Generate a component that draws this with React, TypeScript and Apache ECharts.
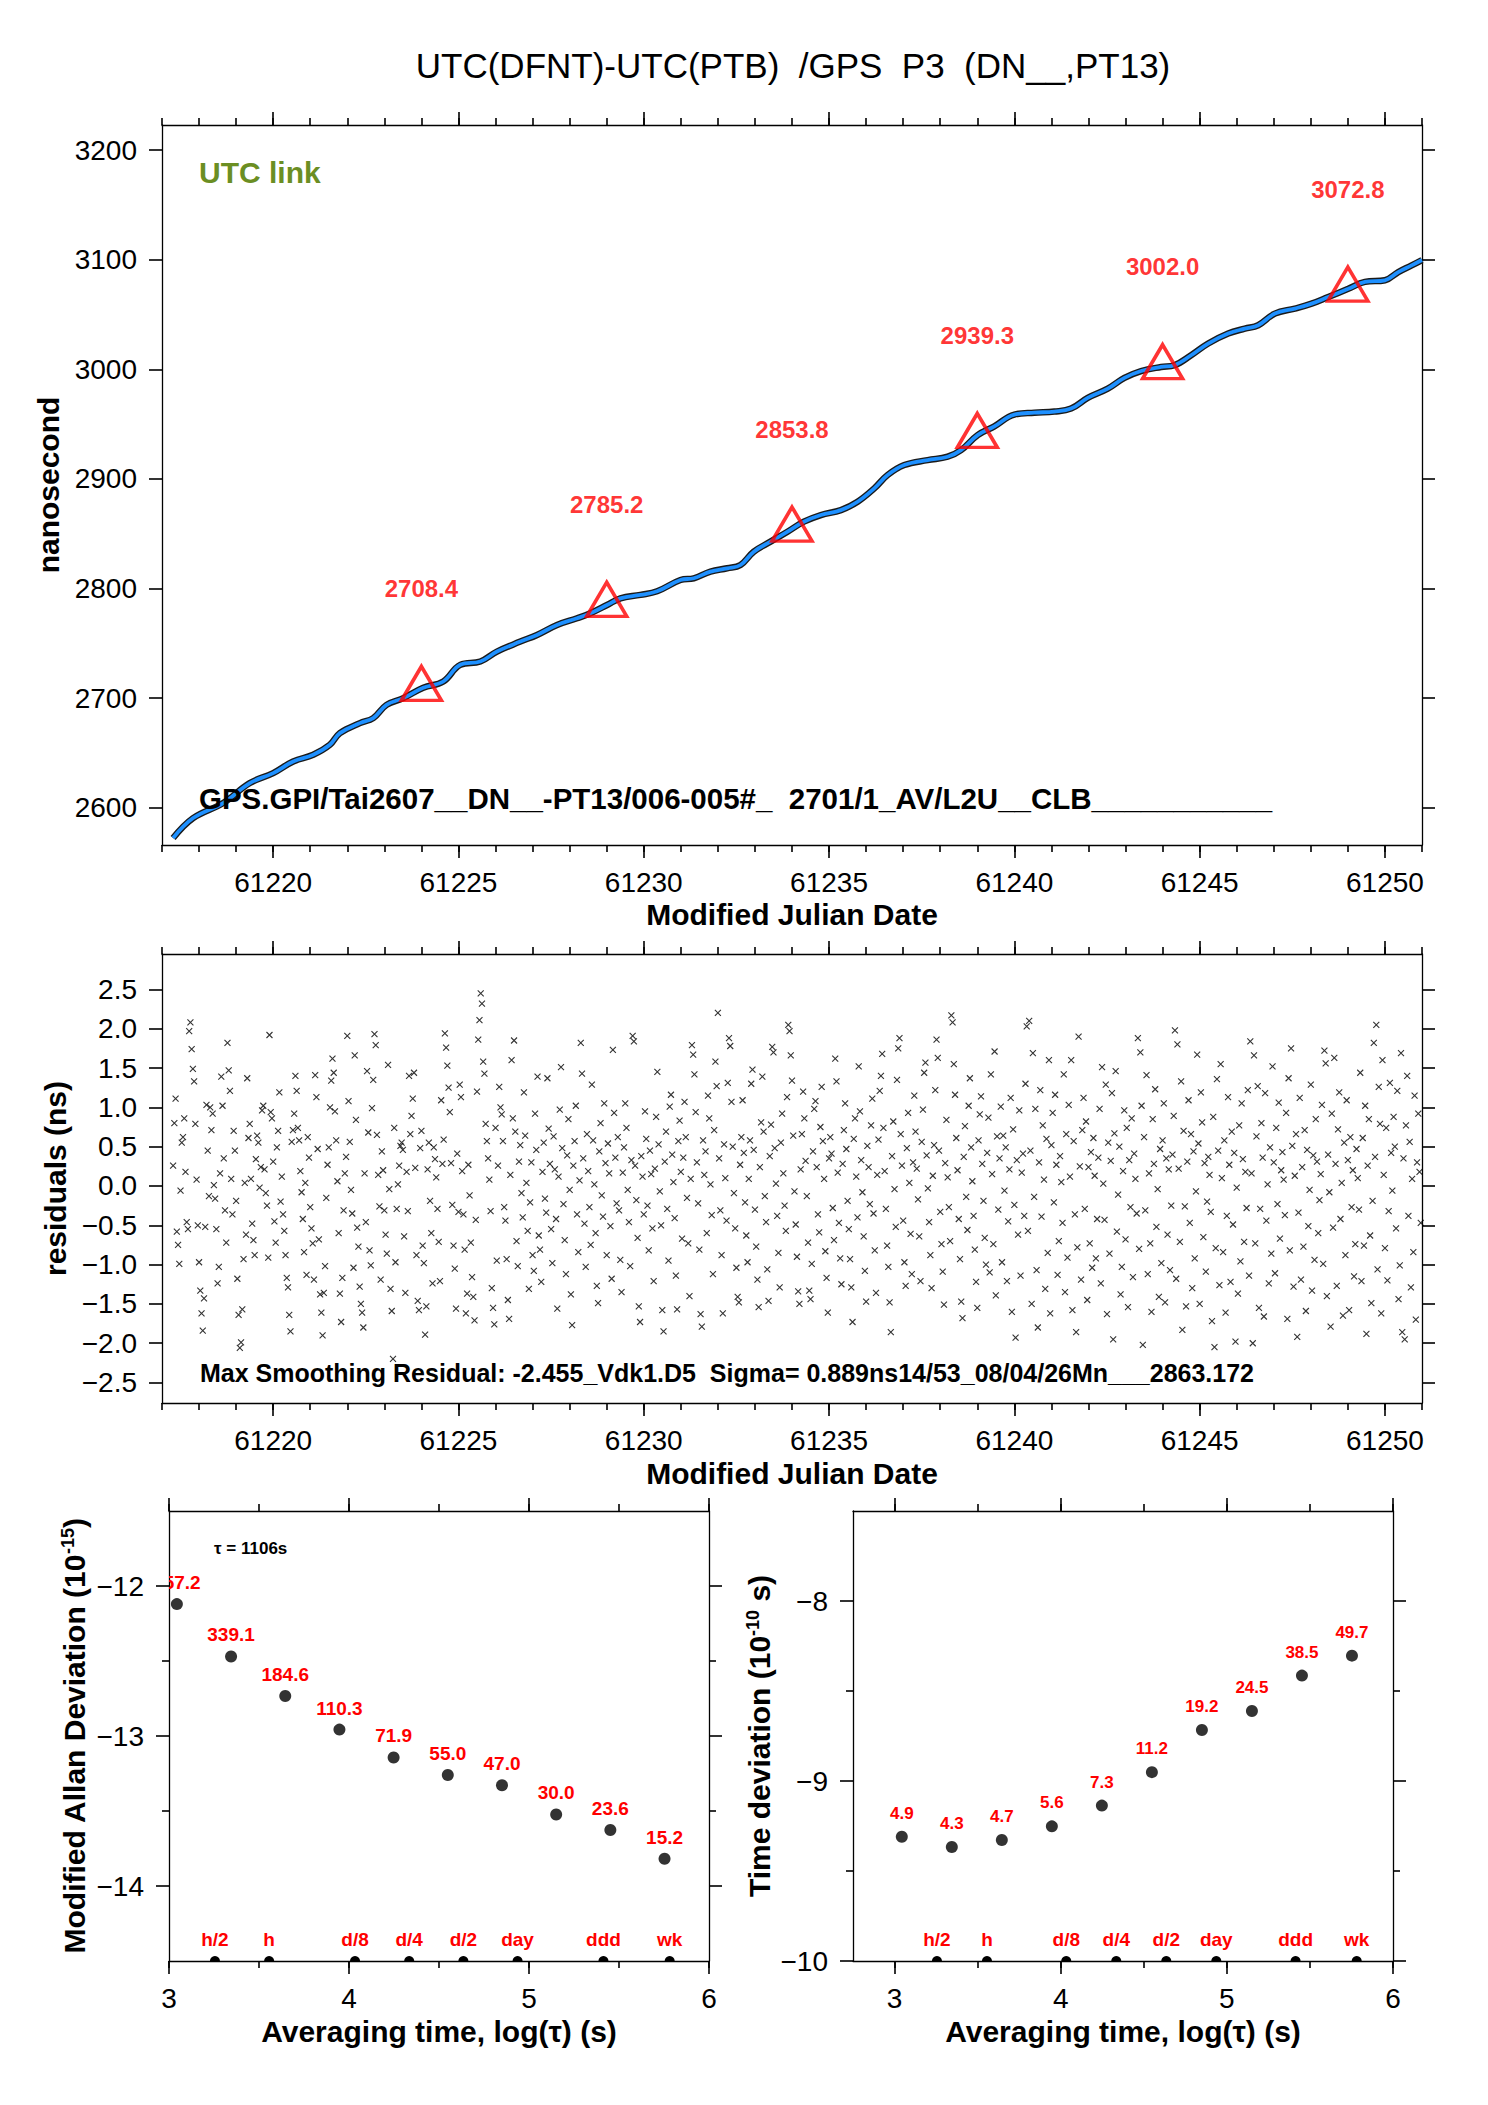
import React, { useEffect, useRef } from "react";
import * as echarts from "echarts";

const FONT = '"Liberation Sans", Arial, Helvetica, sans-serif';

// ---------- top panel: smoothed link data ----------
const SMOOTH_MJD = [
  61217.3, 61217.84, 61218.65, 61219.37, 61220.0, 61220.54, 61221.08, 61221.53, 61221.8, 61222.34,
  61222.7, 61223.06, 61223.51, 61224.05, 61224.59, 61225.05, 61225.59, 61226.04, 61226.67, 61227.12,
  61227.66, 61228.2, 61228.56, 61229.01, 61229.37, 61229.91, 61230.36, 61230.99, 61231.35, 61231.8,
  61232.25, 61232.61, 61232.97, 61233.42, 61233.88, 61234.32, 61234.78, 61235.32, 61235.77, 61236.22,
  61236.58, 61237.03, 61237.66, 61238.2, 61238.56, 61239.01, 61239.46, 61240.0, 61240.54, 61241.08,
  61241.53, 61241.98, 61242.52, 61242.97, 61243.42, 61243.96, 61244.32, 61244.77, 61245.23, 61245.77,
  61246.22, 61246.58, 61247.03, 61247.57, 61248.02, 61248.47, 61249.01, 61249.46, 61250.0, 61250.36,
  61250.72, 61251.0,
];
const SMOOTH_NS = [
  2572.4, 2590.6, 2604.3, 2622.5, 2631.6, 2642.2, 2648.3, 2657.4, 2668.1, 2677.2,
  2681.8, 2693.9, 2700.0, 2709.5, 2715.2, 2730.4, 2733.4, 2742.5, 2751.6, 2757.7,
  2766.8, 2772.9, 2777.5, 2785.0, 2791.1, 2794.2, 2797.5, 2807.8, 2809.4, 2815.5,
  2818.5, 2821.5, 2833.7, 2842.8, 2851.9, 2861.0, 2867.1, 2871.6, 2879.2, 2891.4,
  2903.6, 2912.7, 2917.2, 2920.3, 2926.3, 2940.0, 2948.0, 2958.8, 2960.5, 2961.5,
  2964.2, 2974.0, 2982.4, 2992.2, 2998.5, 3002.2, 3003.8, 3012.9, 3023.6, 3032.7,
  3037.2, 3040.3, 3050.9, 3055.5, 3060.0, 3066.1, 3073.5, 3079.8, 3081.3, 3088.8,
  3094.9, 3099.8,
];
const MARK_MJD = [61224, 61229, 61234, 61239, 61244, 61249];
const MARK_NS = [2708.4, 2785.2, 2853.8, 2939.3, 3002.0, 3072.8];
const MJD_MAJOR = [61220, 61225, 61230, 61235, 61240, 61245, 61250];
const MJD_MINOR = [
  61217, 61218, 61219, 61220, 61221, 61222, 61223, 61224, 61225, 61226, 61227, 61228,
  61229, 61230, 61231, 61232, 61233, 61234, 61235, 61236, 61237, 61238, 61239, 61240,
  61241, 61242, 61243, 61244, 61245, 61246, 61247, 61248, 61249, 61250, 61251,
];
const NS_TICKS = [2600, 2700, 2800, 2900, 3000, 3100, 3200];

// ---------- residuals (ns), sampled every 1/30 day from MJD 61217.3 ----------
const RES_START = 61217.3;
const RES_STEP = 1 / 30;
const RES_1 = [
  0.26, 0.8, 1.11, -0.58, -0.75, -0.99, -0.06, 0.55, 0.62, 0.86, 0.18, -0.46, -0.55, 1.97, 2.08, 1.74, 1.49, 1.33, 0.79, 0.08, -0.5, -0.97, -1.33, -1.62, -1.84, -1.43, -0.52, 1.03, 0.45, -0.13,
  1.0, 0.71, 0.92, 0.01, -0.16, -0.55, -1.24, -1.03, 0.16, 1.39, 1.02, 0.35, -0.31, -0.72, 1.82, 1.47, 1.21, 0.09, -0.36, 0.7, 0.45, -0.19, -1.18, -1.64, -2.06, -1.99, -1.57, -0.93, 0.04, -0.62,
  1.37, 0.61, 0.79, 0.09, -0.48, -0.69, -0.88, 0.34, 0.64, 0.55, -0.02, 0.24, 0.96, 1.02, 0.21, -0.09, -0.25, -0.91, 1.92, 0.94, 0.86, 0.31, -0.45, -0.72, 0.49, 0.7, 1.19, -0.2, 0.12, -0.36,
  -0.57, -0.88, -1.17, -1.29, -1.64, -1.85, 0.56, 0.71, 0.92, 1.4, 1.21, 0.74, 0.58, 0.19, -0.08, -0.42, -0.84, 0.04, -1.13, 0.62, 0.36, -0.27, -0.54, -0.73, -1.19, 1.41, 1.13, 0.47, -0.68, -1.38,
  -1.61, -1.9, -1.36, -1.02, -0.15, 0.27, 0.49, 1.0, 1.34, 1.62, 1.44, 0.95, 0.58, 0.06, -0.6, -1.37, -1.73, -1.17, -0.31, 0.16, 0.37, 1.91, 1.08, 0.56, -0.05, -0.35, -1.04, 1.66, 0.84, -0.53,
  -0.77, -1.28, -1.5, -1.61, -1.8, 0.16, -0.46, 1.46, 0.68, -0.82, -1.01, 0.99, 1.35, 1.93, 1.79, 0.65, 0.14, -0.26, -1.19, 0.44, 0.2, -0.31, -0.62, -0.86, 1.54, -0.04, -1.31, -1.59, -2.2, 0.74,
];
const RES_2 = [
  -0.97, -0.29, 0.02, 0.26, 0.51, 0.55, 0.46, -0.64, -1.36, 0.18, -0.32, 1.4, 0.66, 0.89, 1.11, 1.44, 0.23, -0.88, -1.46, -1.58, 0.48, 0.7, -0.76, -0.98, -1.89, -1.53, 0.21, 0.55, -0.19, -0.6,
  -1.24, 0.49, 0.34, 0.11, -0.29, -0.71, -1.21, 1.09, 0.28, 0.59, 1.94, 1.76, 1.53, 1.25, 0.94, 0.29, -0.24, -0.76, -1.05, -1.56, 0.41, -0.33, 1.29, 1.13, 0.19, -0.36, -0.81, -1.62, -1.37, 0.27,
  -0.12, -0.72, -1.16, -1.41, -1.71, -0.43, 1.2, 1.86, 2.11, 2.45, 2.32, 1.58, 1.43, 0.79, 0.57, 0.35, 0.08, -0.32, -1.3, -1.55, -1.76, 0.74, -0.95, 0.26, 1.26, 1.0, 0.91, 0.57, -0.27, -0.44,
  -0.93, -1.45, -1.69, 0.14, 1.6, 0.86, 1.85, 0.69, -0.7, -1.02, 0.31, 0.52, -0.09, -0.4, 1.19, 0.64, 0.04, -0.57, -1.31, -0.21, 0.3, -0.88, -1.08, 0.92, 0.46, 1.39, -0.63, -0.81, -1.22, 0.18,
  0.55, -0.16, -0.34, 1.37, 0.73, 0.28, -0.55, -0.98, 0.63, 0.21, -0.42, -1.56, 0.12, 0.97, 1.51, 0.48, -0.23, -0.69, -1.12, 0.39, 0.85, -0.05, -1.38, -1.77, 0.26, 0.57, 1.02, -0.36, -0.84, 0.07,
  1.82, 1.43, 0.35, -0.48, -1.03, 0.66, 0.19, -0.27, -0.75, 1.29, 0.58, 0.02, -0.6, -1.27, -1.49, 0.44, 0.8, -0.12, -0.39, 1.05, 0.29, -0.88, 0.54, 0.16, -0.51, -1.18, 1.73, 0.93, 0.36, -0.22,
];
const RES_3 = [
  0.62, -0.31, -0.94, -1.35, 0.17, 0.49, 1.05, 0.74, -0.05, -0.46, -1.02, 0.33, 1.91, 1.84, 0.26, -0.18, -0.66, -1.53, -1.73, 0.38, 0.12, -0.36, 0.95, 0.6, -0.25, -0.82, 0.45, 0.15, -0.54, -1.21,
  0.22, 0.88, 1.45, 0.53, -0.07, -0.5, -1.58, -1.85, 0.31, 0.69, -0.29, -0.95, 1.01, 1.16, 0.4, 0.05, -0.41, -1.14, -1.57, 0.57, 0.83, 0.18, -0.67, 0.36, 1.07, 0.62, -0.15, -0.73, -1.4, 0.09,
  1.79, 1.67, 1.42, 0.94, 0.3, -0.22, -0.81, -1.63, -1.79, 0.58, 0.14, 0.44, -0.6, 1.15, 0.86, 0.02, -0.37, -1.12, 0.71, 1.58, 1.27, 2.2, 0.35, -0.31, -0.88, -1.62, 0.53, 0.1, -0.44, 1.31,
  1.88, 1.78, 1.07, 0.5, -0.09, -0.54, -1.04, -1.41, -1.48, 0.27, 0.62, 1.09, 0.42, -0.21, -0.63, -0.97, 0.09, 0.58, 1.3, 1.48, 0.46, -0.3, -0.77, -1.19, -1.54, 0.24, 0.81, 1.39, 0.69, -0.13,
  -0.46, -1.06, -1.46, 0.38, 0.78, 1.77, 1.7, 0.48, 0.03, -0.38, -0.85, -1.29, 0.55, 0.92, 0.16, -0.25, -0.57, 1.13, 2.05, 1.97, 1.66, 1.34, 0.64, -0.07, -0.49, -0.9, -1.34, -1.5, 0.21, 0.66,
  1.2, 0.86, 0.32, -0.13, -0.72, -1.33, -1.44, -0.99, 0.44, 0.98, 1.08, 0.24, -0.36, -0.59, 0.75, 1.26, 0.57, 0.09, -0.83, -1.17, -1.61, 0.35, 0.62, 0.41, -0.28, -0.69, 1.62, 1.33, 0.17, -0.47,
];
const RES_4 = [
  -0.92, -1.25, 0.28, 0.71, 1.05, 0.47, -0.19, -0.55, -0.93, -1.29, -1.73, 0.6, 0.86, 0.12, -0.4, 1.52, 0.95, 0.33, -0.08, -0.64, -1.08, -1.47, 0.51, 0.24, -0.23, 0.77, 1.11, -0.35, -0.82, -1.36,
  0.14, 0.59, 1.21, 1.4, 1.68, 0.74, 0.19, -0.29, -0.76, -1.03, -1.48, -1.86, 0.38, 0.82, -0.04, -0.52, 1.35, 1.75, 1.88, 0.66, 0.26, -0.44, -0.97, -1.27, 0.48, 0.93, 0.04, -0.61, -1.12, 0.3,
  1.15, 0.69, 0.22, -0.17, -0.64, -1.21, 0.56, 0.97, 1.44, 1.57, 0.39, -0.03, -0.46, -0.88, -1.3, 0.13, 0.52, 1.22, 1.86, 1.63, 0.45, -0.33, -0.74, -1.09, -1.51, 0.29, 0.84, 0.11, -0.27, -0.7,
  2.17, 2.08, 1.55, 1.16, 0.61, 0.2, -0.42, -0.93, -1.47, -1.68, 0.37, 0.76, -0.14, -0.56, 1.02, 1.37, 0.49, 0.06, -0.38, -0.81, -1.22, -1.55, 0.58, 0.91, 1.14, 0.28, -0.19, -0.66, -1.0, 0.42,
  0.87, -1.1, 1.42, 0.15, -0.74, 1.71, -1.39, 0.63, -0.3, 0.35, 1.01, -0.97, 0.64, -0.06, 0.49, -1.21, -0.45, 0.21, 1.12, -1.6, 0.72, -0.24, -1.93, 0.33, -0.62, 0.96, -1.14, 0.17, 0.41, -0.38,
  1.3, 2.03, -0.57, 2.1, 0.45, -1.5, 1.69, -0.14, 0.98, -1.07, -1.8, 0.3, 1.22, -0.39, 0.77, 0.08, -1.31, 0.6, -0.85, 1.6, -1.62, 0.52, 0.93, -0.21, 1.16, 0.27, -1.13, -0.7, 0.38, 0.05,
];
const RES_5 = [
  -0.47, 1.42, -1.35, 0.66, -0.91, 1.03, 0.12, 1.6, -1.58, 0.57, -0.36, -1.86, -0.78, 1.9, 0.25, -1.19, 0.71, 1.12, -0.29, 0.82, -1.45, 0.24, -0.73, 0.43, -1.04, 0.61, 0.13, -0.92, -0.42, 0.36,
  0.98, -1.24, 1.51, 0.03, -0.43, 1.29, -1.63, 0.55, -0.86, 0.32, 1.18, -1.95, 0.67, 1.46, -0.58, -0.11, 0.5, -1.38, -1.03, 0.19, 0.96, -0.68, 0.74, -1.54, 0.33, -0.27, 0.86, -1.16, 0.41, 0.09,
  -0.35, 1.88, -0.8, 1.7, 1.02, -2.02, 0.62, -0.31, 1.41, -1.12, 0.16, -0.73, -1.6, 0.85, 0.28, 1.23, -0.52, -0.04, -1.41, 0.47, -0.98, 0.58, 1.05, -1.48, 0.35, -0.62, 0.21, -1.07, -0.25, 0.4,
  0.89, 1.98, -1.18, 1.8, 0.22, -0.71, 1.33, -1.83, 0.7, -0.26, -1.53, 0.31, 1.09, -0.47, 0.66, -1.3, 0.44, -0.92, -0.07, 1.67, 0.54, -1.5, 1.19, 0.81, -0.65, 0.29, -1.09, -0.2, 0.37, 0.14,
  -0.33, -1.72, 0.88, -2.05, -0.79, 1.36, 0.45, -1.26, 1.55, 0.1, -0.84, 0.58, -1.61, -0.38, 1.13, 0.27, -1.22, 0.69, -0.49, 0.42, -1.98, -0.02, -1.37, 0.77, -0.96, 1.05, 0.34, -0.71, 0.18, -0.28,
  1.22, -1.14, 1.84, 0.16, -2.0, 1.66, -0.73, 0.63, 1.27, -1.55, -0.29, 0.8, 0.36, -1.66, 1.18, -0.44, 0.02, -1.24, 0.49, -0.86, 1.52, 0.3, -1.11, 0.74, -0.23, 1.06, -0.67, 0.2, 0.43, 0.08,
];
const RES_6 = [
  -0.37, 0.93, -1.69, 1.37, -0.82, 1.75, 0.51, -1.28, 0.13, 0.66, -1.92, -0.34, 1.12, -1.19, 0.24, -0.77, 0.71, -1.59, 0.46, -0.51, -0.05, 1.29, -1.33, 0.39, -0.94, 0.85, 0.31, -0.6, -0.18, 0.15,
  1.03, -0.99, 1.72, 1.56, -1.4, 0.4, -0.08, -1.79, 0.92, -0.53, 1.63, 0.28, -1.27, 0.72, 1.19, -0.42, 0.04, -1.65, 0.55, -0.88, 1.09, 0.33, -1.58, 0.62, -0.27, 0.2, -1.15, -0.74, 0.47, 0.1,
  -0.3, 1.44, -1.21, 0.61, -0.76, 1.02, -1.88, 0.26, 0.85, -0.63, -1.49, -0.19, 1.82, 0.37, 2.05, -1.06, 1.26, 0.79, -1.62, 1.6, 0.14, -0.79, 0.74, -1.2, -0.32, 1.31, 0.42, -0.06, 0.88, 0.5,
  -0.54, 1.21, -1.44, -1.01, 1.69, -1.86, 0.35, -1.95, 0.77, 1.4, -0.38, 0.56, -1.29, 0.09, -0.84, 1.15, -1.7, 0.3, 0.92, 0.18, -0.47,
];
const RES_TICKS = [-2.5, -2, -1.5, -1, -0.5, 0, 0.5, 1, 1.5, 2, 2.5];

// ---------- stability panels ----------
const TAU_S = [1106, 2212, 4424, 8848, 17696, 35392, 70784, 141568, 283136, 566272];
const MDEV_E15 = [757.2, 339.1, 184.6, 110.3, 71.9, 55.0, 47.0, 30.0, 23.6, 15.2];
const TDEV_E10 = [4.9, 4.3, 4.7, 5.6, 7.3, 11.2, 19.2, 24.5, 38.5, 49.7];
const MARK_TAU_S = [1800, 3600, 10800, 21600, 43200, 86400, 259200, 604800];
const MARK_NAMES = ["h/2", "h", "d/8", "d/4", "d/2", "day", "ddd", "wk"];
const LOGTAU_MAJOR = [3, 4, 5, 6];
const LOGTAU_MINOR = [3, 3.5, 4, 4.5, 5, 5.5, 6];
const MDEV_MAJOR = [-14, -13, -12];
const MDEV_MINOR = [-13.5, -12.5];
const TDEV_MAJOR = [-10, -9, -8];
const TDEV_MINOR = [-9.5, -8.5];

// ---------- helpers ----------
const BLACK = "#000";
const RED = "#ff0000";
const minus = (s: string) => s.replace("-", "\u2212");
const tickStyle = { color: BLACK, width: 1.6 };
const lineStyle = { color: BLACK, width: 1.3 };
const tickLabel = { fontSize: 28, fontFamily: FONT, color: BLACK };
const nameStyle = { fontSize: 30, fontWeight: "bold", fontFamily: FONT, color: BLACK };

function xSet(grid: number, min: number, max: number, major: number[], minor: number[], fmt: (v: number) => string, name: string, nameGap: number) {
  const base = { type: "value", gridIndex: grid, min, max, splitLine: { show: false }, minorTick: { show: false } };
  return [
    {
      ...base, position: "bottom",
      axisLine: { show: true, onZero: false, lineStyle },
      axisTick: { show: true, inside: false, length: 13, customValues: major, lineStyle: tickStyle },
      axisLabel: { show: true, customValues: major, formatter: fmt, margin: 23, ...tickLabel },
      name, nameLocation: "middle", nameGap, nameTextStyle: nameStyle,
    },
    { ...base, position: "bottom", axisLine: { show: false, onZero: false }, axisTick: { show: true, length: 7, customValues: minor, lineStyle: tickStyle }, axisLabel: { show: false } },
    { ...base, position: "top", axisLine: { show: true, onZero: false, lineStyle }, axisTick: { show: true, length: 13, customValues: major, lineStyle: tickStyle }, axisLabel: { show: false } },
    { ...base, position: "top", axisLine: { show: false, onZero: false }, axisTick: { show: true, length: 7, customValues: minor, lineStyle: tickStyle }, axisLabel: { show: false } },
  ];
}

function ySet(grid: number, min: number, max: number, major: number[], minor: number[], fmt: (v: number) => string, name: any, nameGap: number, rich?: any) {
  const base = { type: "value", gridIndex: grid, min, max, splitLine: { show: false }, minorTick: { show: false } };
  const ns: any = rich ? { ...nameStyle, rich } : nameStyle;
  return [
    {
      ...base, position: "left",
      axisLine: { show: true, onZero: false, lineStyle },
      axisTick: { show: true, inside: false, length: 13, customValues: major, lineStyle: tickStyle },
      axisLabel: { show: true, customValues: major, formatter: fmt, margin: 25, ...tickLabel },
      name, nameLocation: "middle", nameGap, nameRotate: 90, nameTextStyle: ns,
    },
    { ...base, position: "left", axisLine: { show: false, onZero: false }, axisTick: { show: minor.length > 0, length: 7, customValues: minor.length ? minor : major, lineStyle: tickStyle }, axisLabel: { show: false } },
    { ...base, position: "right", axisLine: { show: true, onZero: false, lineStyle }, axisTick: { show: true, length: 13, customValues: major, lineStyle: tickStyle }, axisLabel: { show: false } },
    { ...base, position: "right", axisLine: { show: false, onZero: false }, axisTick: { show: minor.length > 0, length: 7, customValues: minor.length ? minor : major, lineStyle: tickStyle }, axisLabel: { show: false } },
  ];
}

function textStyle(text: string, font: string, fill: string, align: string, vAlign: string) {
  return { text, font, fill, align, verticalAlign: vAlign, textAlign: align, textVerticalAlign: vAlign };
}

function labelSeries(xi: number, yi: number, pts: number[][], texts: string[], dy: number, size: number) {
  return {
    type: "custom", xAxisIndex: xi, yAxisIndex: yi, clip: true, z: 6, data: pts,
    renderItem: (params: any, api: any) => {
      const p = api.coord([api.value(0), api.value(1)]);
      return { type: "text", x: p[0], y: p[1] - dy, style: textStyle(texts[params.dataIndex], `bold ${size}px ${FONT}`, RED, "center", "middle") };
    },
  };
}

function markerSeries(xi: number, yi: number, yBottom: number) {
  return {
    type: "custom", xAxisIndex: xi, yAxisIndex: yi, clip: true, z: 6,
    data: MARK_TAU_S.map((t) => [Math.log10(t), yBottom]),
    renderItem: (params: any, api: any) => {
      const p = api.coord([api.value(0), api.value(1)]);
      return {
        type: "group",
        children: [
          { type: "circle", shape: { cx: p[0], cy: p[1], r: 5 }, style: { fill: BLACK } },
          { type: "text", x: p[0], y: p[1] - 21.5, style: textStyle(MARK_NAMES[params.dataIndex], `bold 19px ${FONT}`, RED, "center", "middle") },
        ],
      };
    },
  };
}

function buildOption() {
  const smooth = SMOOTH_MJD.map((m, i) => [m, SMOOTH_NS[i]]);
  const marks = MARK_MJD.map((m, i) => [m, MARK_NS[i]]);
  const resAll = [...RES_1, ...RES_2, ...RES_3, ...RES_4, ...RES_5, ...RES_6];
  const res = resAll.map((v, i) => [RES_START + i * RES_STEP, v]);
  const logTau = TAU_S.map((t) => Math.log10(t));
  const mdev = MDEV_E15.map((v, i) => [logTau[i], Math.log10(v * 1e-15)]);
  const tdev = TDEV_E10.map((v, i) => [logTau[i], Math.log10(v * 1e-10)]);

  const intFmt = (v: number) => minus(String(v));
  const resFmt = (v: number) => minus(v.toFixed(1));

  const xAxis = [
    ...xSet(0, 61217, 61251, MJD_MAJOR, MJD_MINOR, intFmt, "Modified Julian Date", 54),
    ...xSet(1, 61217, 61251, MJD_MAJOR, MJD_MINOR, intFmt, "Modified Julian Date", 55),
    ...xSet(2, 3, 6, LOGTAU_MAJOR, LOGTAU_MINOR, intFmt, "Averaging time, log(\u03c4) (s)", 55),
    ...xSet(3, 2.75, 6, LOGTAU_MAJOR, LOGTAU_MINOR, intFmt, "Averaging time, log(\u03c4) (s)", 55),
  ];
  const supRich = {
    n: { fontSize: 30, fontWeight: "bold", fontFamily: FONT, color: BLACK },
    s: { fontSize: 18, fontWeight: "bold", fontFamily: FONT, color: BLACK, verticalAlign: "top" },
  };
  const yAxis = [
    ...ySet(0, 2566, 3223, NS_TICKS, [], intFmt, "nanosecond", 94),
    ...ySet(1, -2.76, 2.95, RES_TICKS, [], resFmt, "residuals (ns)", 86),
    ...ySet(2, -14.5, -11.5, MDEV_MAJOR, MDEV_MINOR, intFmt, "{n|Modified Allan Deviation (10}{s|-15}{n|)}", 80, supRich),
    ...ySet(3, -10, -7.5, TDEV_MAJOR, TDEV_MINOR, intFmt, "{n|Time deviation (10}{s|-10}{n| s)}", 79, supRich),
  ];

  return {
    animation: false,
    backgroundColor: "#fff",
    textStyle: { fontFamily: FONT },
    grid: [
      { left: 162, top: 125, width: 1260, height: 720 },
      { left: 162, top: 954, width: 1260, height: 449 },
      { left: 169, top: 1511, width: 540, height: 450 },
      { left: 853, top: 1511, width: 540, height: 450 },
    ],
    xAxis,
    yAxis,
    graphic: [
      { type: "text", x: 793, y: 65, style: textStyle("UTC(DFNT)-UTC(PTB)  /GPS  P3  (DN__,PT13)", `35px ${FONT}`, BLACK, "center", "middle") },
      { type: "text", x: 199, y: 172, style: textStyle("UTC link", `bold 30px ${FONT}`, "#6b8e23", "left", "middle") },
      { type: "text", x: 199, y: 798, z: 10, style: textStyle("GPS.GPI/Tai2607__DN__-PT13/006-005#_  2701/1_AV/L2U__CLB___________", `bold 29.5px ${FONT}`, BLACK, "left", "middle") },
      { type: "text", x: 200, y: 1373, z: 10, style: textStyle("Max Smoothing Residual: -2.455_Vdk1.D5  Sigma= 0.889ns14/53_08/04/26Mn___2863.172", `bold 25px ${FONT}`, BLACK, "left", "middle") },
      { type: "text", x: 214, y: 1548, style: textStyle("\u03c4 = 1106s", `bold 17px ${FONT}`, BLACK, "left", "middle") },
    ],
    series: [
      {
        type: "line", xAxisIndex: 0, yAxisIndex: 0, data: smooth, showSymbol: false, smooth: 0.4, z: 2,
        lineStyle: { color: "#1a1a1a", width: 6.5 },
      },
      {
        type: "line", xAxisIndex: 0, yAxisIndex: 0, data: smooth, showSymbol: false, smooth: 0.4, z: 3,
        lineStyle: { color: "#1e90ff", width: 3.8 },
      },
      {
        type: "scatter", xAxisIndex: 0, yAxisIndex: 0, data: marks, z: 4,
        symbol: "triangle", symbolSize: [40, 34], symbolOffset: [0, -5.5],
        itemStyle: { color: "rgba(0,0,0,0)", borderColor: RED, borderWidth: 3.5 },
        label: {
          show: true, position: "inside", offset: [0, -95],
          formatter: (p: any) => p.value[1].toFixed(1),
          color: RED, fontSize: 24, fontWeight: "bold", fontFamily: FONT,
        },
      },
      {
        type: "scatter", xAxisIndex: 4, yAxisIndex: 4, data: res, z: 3,
        symbol: "path://M0 0L10 10M10 0L0 10", symbolSize: 6,
        itemStyle: { color: "rgba(0,0,0,0)", borderColor: BLACK, borderWidth: 1.1 },
      },
      {
        type: "scatter", xAxisIndex: 8, yAxisIndex: 8, data: mdev, symbolSize: 12, z: 5,
        itemStyle: { color: BLACK },
      },
      labelSeries(8, 8, mdev, MDEV_E15.map((v) => v.toFixed(1)), 21.5, 19),
      markerSeries(8, 8, -14.5),
      {
        type: "scatter", xAxisIndex: 12, yAxisIndex: 12, data: tdev, symbolSize: 12, z: 5,
        itemStyle: { color: BLACK },
      },
      labelSeries(12, 12, tdev, TDEV_E10.map((v) => v.toFixed(1)), 23.5, 17),
      markerSeries(12, 12, -10),
    ],
  };
}

export default function App() {
  const ref = useRef<HTMLDivElement>(null);
  useEffect(() => {
    const chart = echarts.init(ref.current as HTMLDivElement, null, { renderer: "svg" });
    chart.setOption(buildOption() as any);
    return () => chart.dispose();
  }, []);
  return (
    <div
      ref={ref}
      style={{ position: "absolute", left: 0, top: 0, width: 1488, height: 2105, background: "#fff" }}
    />
  );
}
